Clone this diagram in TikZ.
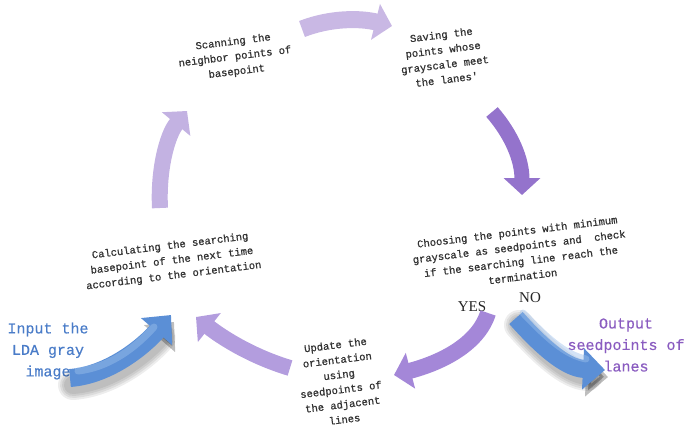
\documentclass[tikz,border=0pt]{standalone}
\usepackage{fontspec}
\setmainfont{Liberation Serif}
\newfontfamily\monof[FakeBold=0.9]{Liberation Mono}
\newfontfamily\iomonof[FakeBold=0.5]{Liberation Mono}
\usetikzlibrary{arrows.meta}
\definecolor{ptop}{HTML}{C9B8E4}
\definecolor{pright}{HTML}{9473CC}
\definecolor{pyes}{HTML}{A487D8}
\definecolor{pbl}{HTML}{B39DDE}
\definecolor{pleft}{HTML}{C3B2E2}
\definecolor{bluearr}{HTML}{5B8FD6}
\definecolor{bluelight}{HTML}{9DC0EC}
\definecolor{intext}{HTML}{4A7CC8}
\definecolor{outtext}{HTML}{8A5CC0}
\tikzset{
  lbl/.style={font=\monof\fontsize{10.5}{15}\selectfont, align=center, text=black!80, rotate=7, inner sep=0pt},
  iolbl/.style={font=\iomonof\fontsize{15}{21.5}\selectfont, align=center, inner sep=0pt},
  yn/.style={font=\fontsize{15}{15}\selectfont, inner sep=0pt, text=black!85},
  fat/.style={line width=#1, -{Triangle[length=17pt,width=36pt]}},
  bluefat/.style={line width=18pt, -{Triangle[length=22pt,width=40pt]}, draw=bluearr},
  shadowfat/.style={line width=#1, -{Triangle[length=22pt,width=40pt]}, draw=black, opacity=0.07, line cap=round, line join=round}
}
\begin{document}
\begin{tikzpicture}[x=1pt,y=-1pt]
\useasboundingbox (0,0) rectangle (687,431);
% text nodes
\node[lbl] (scan) at (235,57) {Scanning the\\neighbor points of\\basepoint};
\node[lbl] (save) at (444,57) {Saving the\\points whose\\grayscale meet\\the lanes'};
\node[lbl] (choose) at (520,254) {Choosing the points with minimum\\grayscale as seedpoints and\ \ check\\if the searching line reach the\\termination};
\node[lbl] (calc) at (172,261) {Calculating the searching\\basepoint of the next time\\according to the orientation};
\node[lbl] (update) at (340,382) {Update the\\orientation\\using\\seedpoints of\\the adjacent\\lines};
\node[iolbl, text=intext] (input) at (48,351) {Input the\\LDA gray\\image};
\node[iolbl, text=outtext] (output) at (626,345) {Output\\seedpoints of\\lanes};
\node[yn] (yes) at (472,307) {YES};
\node[yn] (no) at (530,298) {NO};
% arrow end points
\coordinate (t1) at (302,29); \coordinate (t2) at (392,26);
\coordinate (r1) at (492,112); \coordinate (r2) at (522,195);
\coordinate (y1) at (488,313); \coordinate (y2) at (394,375);
\coordinate (b1) at (290,368); \coordinate (b2) at (196,317);
\coordinate (l1) at (160,208); \coordinate (l2) at (187,111);
\coordinate (i1) at (70,378); \coordinate (i2) at (171,315);
\coordinate (o1) at (516,318); \coordinate (o2) at (605,370);
% cycle arrows
\draw[fat=17pt, draw=ptop] (t1) .. controls (330,18) and (360,18) .. (t2);
\draw[fat=15pt, draw=pright] (r1) .. controls (512,135) and (522,160) .. (r2);
\draw[fat=16pt, draw=pyes] (y1) .. controls (478,345) and (440,363) .. (y2);
\draw[fat=16pt, draw=pbl] (b1) .. controls (250,356) and (220,336) .. (b2);
\draw[fat=16pt, draw=pleft] (l1) .. controls (158,170) and (167,135) .. (l2);
% soft shadows of the blue arrows
\begin{scope}[shift={(3,7)}]
\foreach \w in {30,26,22,18}{
\draw[shadowfat=\w pt] (70,378) .. controls (110,375) and (145,345) .. (171,315);
\draw[shadowfat=\w pt] (516,318) .. controls (540,345) and (565,368) .. (605,370);
}
\end{scope}
\draw[bluefat] (i1) .. controls (110,375) and (145,345) .. (i2);
\draw[bluefat] (o1) .. controls (540,345) and (565,368) .. (o2);
\draw[bluelight, line width=7pt, line cap=round, opacity=0.45] (78,371) .. controls (112,367) and (138,345) .. (154,327);
\draw[bluelight, line width=7pt, line cap=round, opacity=0.45] (523,313) .. controls (546,337) and (565,355) .. (586,359);
\end{tikzpicture}
\end{document}
